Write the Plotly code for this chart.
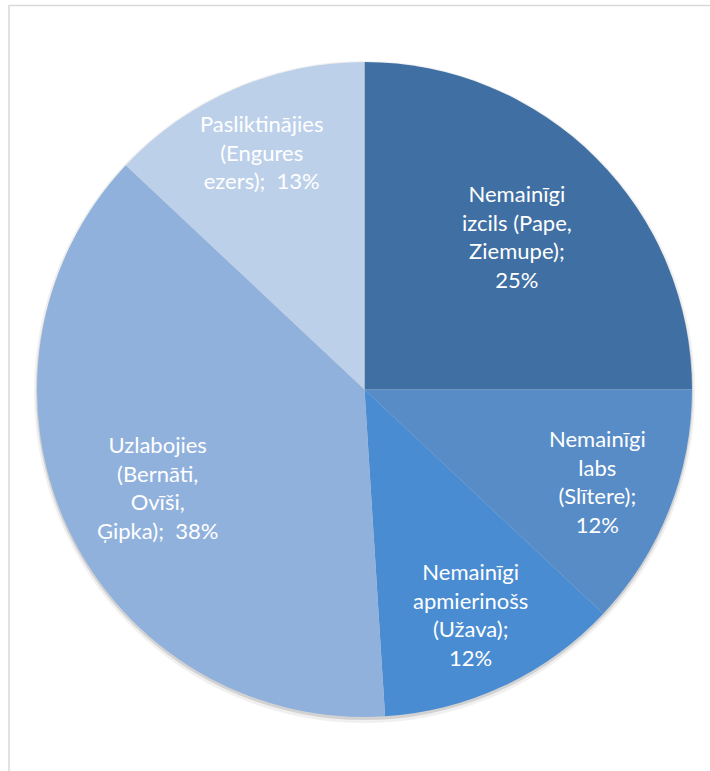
import math
import plotly.graph_objects as go

labels = [
    "Nemainīgi izcils (Pape, Ziemupe)",
    "Nemainīgi labs (Slītere)",
    "Nemainīgi apmierinošs (Užava)",
    "Uzlabojies (Bernāti, Ovīši, Ģipka)",
    "Pasliktinājies (Engures ezers)",
]
values = [25, 12, 12, 38, 13]
label_text = [
    "Nemainīgi<br>izcils (Pape,<br>Ziemupe);<br>25%",
    "Nemainīgi<br>labs<br>(Slītere);<br>12%",
    "Nemainīgi<br>apmierinošs<br>(Užava);<br>12%",
    "Uzlabojies<br>(Bernāti,<br>Ovīši,<br>Ģipka);  38%",
    "Pasliktinājies<br>(Engures<br>ezers);  13%",
]
colors = ["#3F6FA3", "#578CC7", "#4A8CD2", "#91B1DD", "#BDD0EA"]
# radial placement of each data label (fraction of radius), styling only
label_radius = [0.66, 0.765, 0.76, 0.70, 0.79]

fig = go.Figure(go.Pie(
    labels=labels,
    values=values,
    textinfo="none",
    hoverinfo="label+percent",
    marker=dict(colors=colors, line=dict(width=0)),
    sort=False,
    direction="clockwise",
    rotation=0,
    showlegend=False,
    domain=dict(x=[0, 1], y=[0, 1]),
))

# data labels at the mid-angle of each slice
total = sum(values)
annotations = []
cum = 0
for v, t, f in zip(values, label_text, label_radius):
    mid = (cum + v / 2) / total * 2 * math.pi
    cum += v
    annotations.append(dict(
        x=0.5 + 0.5 * f * math.sin(mid),
        y=0.5 + 0.5 * f * math.cos(mid),
        xref="paper", yref="paper",
        text=t, showarrow=False,
        xanchor="center", yanchor="middle", align="center",
        font=dict(family="Lato", size=22, color="white"),
    ))

P = 655.0
shapes = [
    # soft shadow under the pie
    dict(type="circle", xref="paper", yref="paper",
         x0=-3 / P, x1=1 + 3 / P, y0=-6 / P, y1=1 + 1 / P,
         line=dict(width=0), fillcolor="rgba(0,0,0,0.06)", layer="below"),
    dict(type="circle", xref="paper", yref="paper",
         x0=-1 / P, x1=1 + 1 / P, y0=-3 / P, y1=1 - 1 / P,
         line=dict(width=0), fillcolor="rgba(0,0,0,0.12)", layer="below"),
    # chart frame
    dict(type="rect", xref="paper", yref="paper",
         x0=(9 - 37) / P, x1=1 + 60 / P, y0=-100 / P, y1=1 + (62 - 5.5) / P,
         line=dict(color="#D9D9D9", width=1.5), fillcolor="rgba(0,0,0,0)",
         layer="below"),
]

fig.update_layout(
    width=710, height=771,
    margin=dict(l=37, r=18, t=62, b=54),
    paper_bgcolor="white",
    plot_bgcolor="white",
    annotations=annotations,
    shapes=shapes,
)

fig.write_html("out.html", config={"displayModeBar": False},
               post_script="document.body.style.margin='0';")
